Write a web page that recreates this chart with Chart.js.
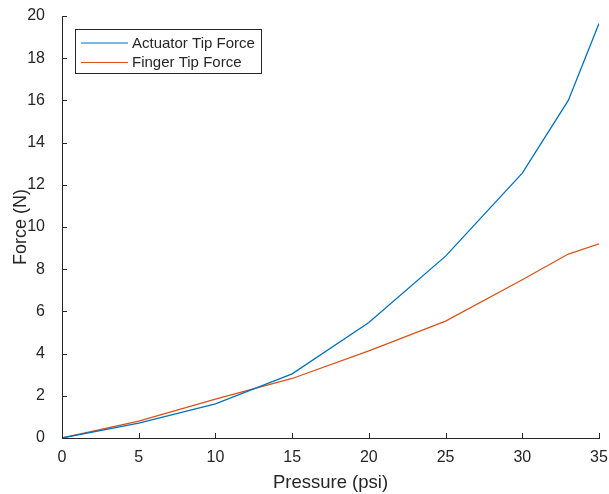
<!DOCTYPE html>
<html>
<head>
<meta charset="utf-8">
<script src="https://cdn.jsdelivr.net/npm/chart.js@4/dist/chart.umd.min.js"></script>
<style>
  html, body { margin: 0; padding: 0; background: #ffffff; }
  #wrap { width: 609px; height: 494px; position: relative; }
</style>
</head>
<body>
<div id="wrap"><canvas id="chart" width="609" height="494"></canvas></div>
<script>
// Measured pressure steps and resulting tip forces
const pressure = [0, 5, 10, 15, 20, 25, 30, 33, 35];
const actuatorForce = [0, 0.7, 1.62, 3.04, 5.47, 8.62, 12.55, 16.0, 19.65];
const fingerForce = [0, 0.8, 1.84, 2.82, 4.13, 5.54, 7.5, 8.72, 9.2];

const seriesLabels = ['Actuator Tip Force', 'Finger Tip Force'];
const xTitle = 'Pressure (psi)';
const yTitle = 'Force (N)';

const AXIS_COLOR = '#262626';
const FONT = '"Liberation Sans", Arial, Helvetica, sans-serif';

const toPoints = ys => pressure.map((x, i) => ({ x: x, y: ys[i] }));

// Inward tick marks on the left and bottom axes
const inwardTicks = {
  id: 'inwardTicks',
  afterDraw(chart) {
    const { ctx, chartArea, scales } = chart;
    ctx.save();
    ctx.strokeStyle = AXIS_COLOR;
    ctx.lineWidth = 1;
    ctx.beginPath();
    scales.x.ticks.forEach(t => {
      const px = Math.round(scales.x.getPixelForValue(t.value)) + 0.5;
      ctx.moveTo(px, chartArea.bottom);
      ctx.lineTo(px, chartArea.bottom - 5);
    });
    scales.y.ticks.forEach(t => {
      const py = Math.round(scales.y.getPixelForValue(t.value)) + 0.5;
      ctx.moveTo(chartArea.left, py);
      ctx.lineTo(chartArea.left + 5, py);
    });
    ctx.stroke();
    ctx.restore();
  }
};

// Boxed legend in the upper-left corner of the plot area
const boxLegend = {
  id: 'boxLegend',
  afterDraw(chart) {
    const { ctx, chartArea } = chart;
    const x0 = chartArea.left + 13, y0 = chartArea.top + 13;
    const w = 186, h = 44;
    ctx.save();
    ctx.fillStyle = '#ffffff';
    ctx.fillRect(x0, y0, w, h);
    ctx.strokeStyle = AXIS_COLOR;
    ctx.lineWidth = 1;
    ctx.strokeRect(x0 + 0.5, y0 + 0.5, w, h);
    ctx.font = '15px ' + FONT;
    ctx.textBaseline = 'middle';
    ctx.textAlign = 'left';
    chart.data.datasets.forEach((ds, i) => {
      const cy = y0 + 14 + i * 19.5;
      ctx.strokeStyle = ds.borderColor;
      ctx.lineWidth = 1.2;
      ctx.beginPath();
      ctx.moveTo(x0 + 6, cy);
      ctx.lineTo(x0 + 53, cy);
      ctx.stroke();
      ctx.fillStyle = AXIS_COLOR;
      ctx.fillText(ds.label, x0 + 57, cy + 0.5);
    });
    ctx.restore();
  }
};

new Chart(document.getElementById('chart'), {
  type: 'line',
  data: {
    datasets: [
      {
        label: seriesLabels[0],
        data: toPoints(actuatorForce),
        borderColor: '#0072BD',
        backgroundColor: '#0072BD',
        borderWidth: 1.3,
        pointRadius: 0,
        tension: 0,
        fill: false
      },
      {
        label: seriesLabels[1],
        data: toPoints(fingerForce),
        borderColor: '#D95319',
        backgroundColor: '#D95319',
        borderWidth: 1.3,
        pointRadius: 0,
        tension: 0,
        fill: false
      }
    ]
  },
  options: {
    responsive: false,
    animation: false,
    devicePixelRatio: 1,
    layout: { padding: { top: 16, right: 10, left: 0, bottom: 0 } },
    plugins: {
      legend: { display: false },
      tooltip: { enabled: false }
    },
    scales: {
      x: {
        type: 'linear',
        min: 0,
        max: 35,
        grid: { display: false },
        border: { display: true, color: AXIS_COLOR, width: 1 },
        ticks: {
          stepSize: 5,
          padding: 2,
          color: AXIS_COLOR,
          font: { family: FONT, size: 16 },
          maxRotation: 0
        },
        title: {
          display: true,
          text: xTitle,
          color: AXIS_COLOR,
          font: { family: FONT, size: 18.5 },
          padding: { top: 11, bottom: 0 }
        },
        afterFit(scale) {
          scale.height = 56;
          scale.paddingLeft = 0;
          scale.paddingRight = 0;
        }
      },
      y: {
        type: 'linear',
        min: 0,
        max: 20,
        grid: { display: false },
        border: { display: true, color: AXIS_COLOR, width: 1 },
        ticks: {
          stepSize: 2,
          padding: 9,
          color: AXIS_COLOR,
          font: { family: FONT, size: 16 }
        },
        title: {
          display: true,
          text: yTitle,
          color: AXIS_COLOR,
          font: { family: FONT, size: 18 },
          padding: { top: 10, bottom: 0 }
        },
        afterFit(scale) {
          scale.width = 62;
          scale.paddingTop = 0;
          scale.paddingBottom = 0;
        }
      }
    }
  },
  plugins: [inwardTicks, boxLegend]
});
</script>
</body>
</html>
